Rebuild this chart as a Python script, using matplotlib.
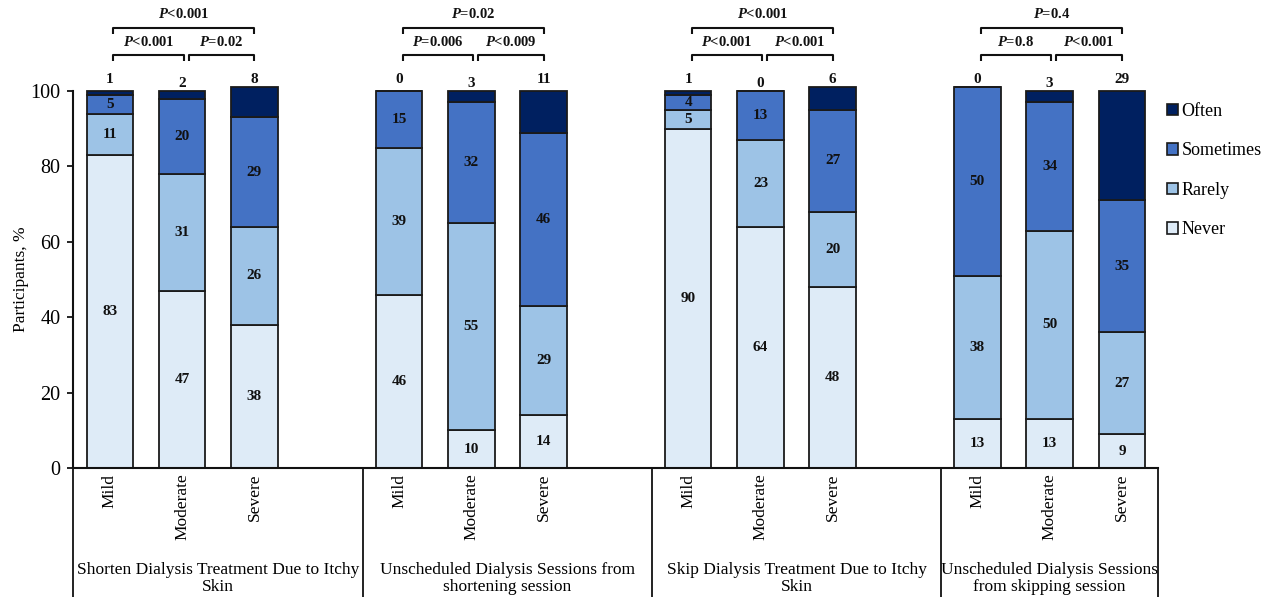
import matplotlib
matplotlib.use("Agg")
import matplotlib.pyplot as plt
from matplotlib.patches import Patch
import numpy as np

plt.rcParams["font.family"] = ["Liberation Serif", "DejaVu Serif"]
plt.rcParams["mathtext.fontset"] = "custom"
plt.rcParams["mathtext.it"] = "Liberation Serif:italic:bold"
plt.rcParams["mathtext.rm"] = "Liberation Serif:bold"

# ---- data -------------------------------------------------------------
groups = [
    "Shorten Dialysis Treatment Due to Itchy\nSkin",
    "Unscheduled Dialysis Sessions from\nshortening session",
    "Skip Dialysis Treatment Due to Itchy\nSkin",
    "Unscheduled Dialysis Sessions\nfrom skipping session",
]
severity = ["Mild", "Moderate", "Severe"]

never     = [83, 47, 38, 46, 10, 14, 90, 64, 48, 13, 13, 9]
rarely    = [11, 31, 26, 39, 55, 29, 5, 23, 20, 38, 50, 27]
sometimes = [5, 20, 29, 15, 32, 46, 4, 13, 27, 50, 34, 35]
often     = [1, 2, 8, 0, 3, 11, 1, 0, 6, 0, 3, 29]

responses = ["Never", "Rarely", "Sometimes", "Often"]
colors = ["#DEEBF7", "#9DC3E6", "#4472C4", "#002060"]

p_left  = ["<0.001", "=0.006", "<0.001", "=0.8"]
p_right = ["=0.02", "<0.009", "<0.001", "<0.001"]
p_outer = ["<0.001", "=0.02", "<0.001", "=0.4"]

# ---- layout -----------------------------------------------------------
n_sev = len(severity)
slot = n_sev + 1
x = np.array([g * slot + s for g in range(len(groups)) for s in range(n_sev)], dtype=float)

fig = plt.figure(figsize=(12.67, 5.97), dpi=100)
ax = fig.add_axes([0.0576, 0.216, 0.8564, 0.6315])

series = [never, rarely, sometimes, often]
bottom = np.zeros(len(x))
for vals, col, name in zip(series, colors, responses):
    vals = np.array(vals, dtype=float)
    ax.bar(x, vals, width=0.645, bottom=bottom, color=col, edgecolor="#1a1a1a",
           linewidth=1.3, label=name, clip_on=False, zorder=2)
    if name != "Often":
        for xi, b, v in zip(x, bottom, vals):
            if v > 0:
                ax.text(xi, b + v / 2, f"{int(v)}", ha="center", va="center",
                        fontsize=11, fontweight="bold", color="#111111", zorder=3)
    bottom += vals

# "Often" percentages written above each stack
top_label_y = [103.0, 102.0, 103.0]
for i, (xi, v) in enumerate(zip(x, often)):
    ax.text(xi, top_label_y[i % n_sev], f"{v}", ha="center", va="center",
            fontsize=11, fontweight="bold", color="#111111", clip_on=False)

# significance brackets
def bracket(x0, x1, y, label, label_y):
    ax.plot([x0, x0, x1, x1], [y - 1.6, y, y, y - 1.6], color="#111111",
            linewidth=1.5, clip_on=False, solid_capstyle="butt")
    ax.text((x0 + x1) / 2, label_y, r"$P$" + label, ha="center", va="center",
            fontsize=10.5, fontweight="bold", color="#111111", clip_on=False)

for g in range(len(groups)):
    base = g * slot
    bracket(base + 0.05, base + 1.02, 109.6, p_left[g], 112.9)
    bracket(base + 1.09, base + 2.0, 109.6, p_right[g], 112.9)
    bracket(base + 0.05, base + 2.0, 116.8, p_outer[g], 120.4)

# axes styling
ax.set_xlim(-0.51, 14.5)
ax.set_ylim(0, 100)
ax.set_yticks(range(0, 101, 20))
ax.tick_params(axis="y", direction="out", length=4, width=1.2, labelsize=14.5, pad=5)
ax.tick_params(axis="x", length=0, labelsize=12.5, pad=4)
ax.set_xticks(x)
ax.set_xticklabels(severity * len(groups), rotation=90, va="top")
for side in ("top", "right"):
    ax.spines[side].set_visible(False)
for side in ("left", "bottom"):
    ax.spines[side].set_linewidth(1.5)
    ax.spines[side].set_color("#111111")
ax.set_ylabel("Participants, %", fontsize=12.5, labelpad=1)

# category dividers and group titles below the axis
bounds = [-0.51, 3.5, 7.5, 11.5, 14.5]
for xd in bounds:
    ax.plot([xd, xd], [0, -36], color="#111111", linewidth=1.3, clip_on=False)
for g, name in enumerate(groups):
    cx = (bounds[g] + bounds[g + 1]) / 2
    ax.text(cx, -29.3, name, ha="center", va="center", fontsize=12.5,
            linespacing=1.15, clip_on=False)

# legend (reverse order: darkest on top)
handles = [Patch(facecolor=c, edgecolor="#1a1a1a", linewidth=1.2) for c in colors][::-1]
fig.legend(handles, responses[::-1], loc="upper left", bbox_to_anchor=(0.914, 0.843),
           frameon=False, fontsize=13, handlelength=0.6, handleheight=0.6,
           handletextpad=0.2, labelspacing=1.25, borderpad=0)

fig.savefig("out.png", dpi=100)
